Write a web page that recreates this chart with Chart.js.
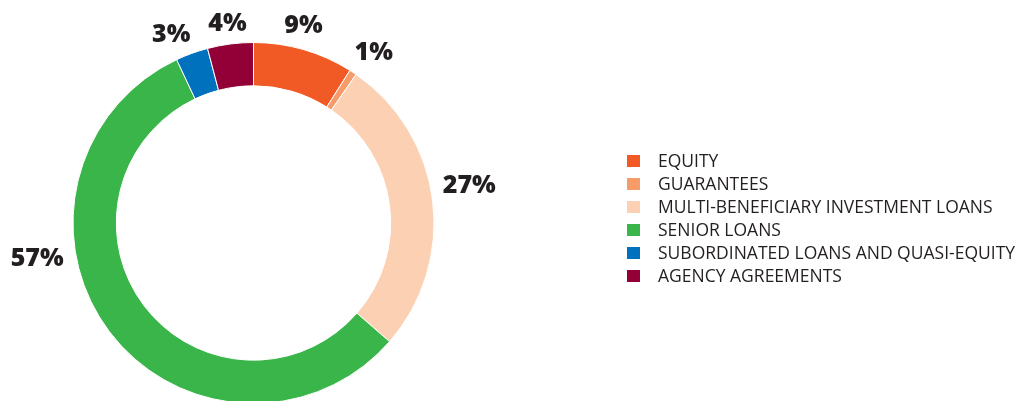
<!DOCTYPE html>
<html>
<head>
<meta charset="utf-8">
<script src="https://cdn.jsdelivr.net/npm/chart.js@4.4.1/dist/chart.umd.min.js"></script>
<style>
  html, body { margin: 0; padding: 0; overflow: hidden; background: #ffffff; width: 1027px; height: 401px; }
  #wrap { position: absolute; left: 0; top: 0; width: 1027px; height: 406px; }
  #legend { position: absolute; left: 627px; top: 149px; font-family: "Open Sans", sans-serif; font-size: 17.5px; color: #231F20; }
  .row { height: 23px; line-height: 23px; white-space: nowrap; position: relative; }
  .box { position: absolute; left: 0; top: 6px; width: 13px; height: 12px; }
  .txt { position: absolute; left: 31px; top: 0; }
</style>
</head>
<body>
<div id="wrap"><canvas id="c" width="1027" height="406"></canvas></div>
<div id="legend"></div>
<script>
const categories = [
  "EQUITY",
  "GUARANTEES",
  "MULTI-BENEFICIARY INVESTMENT LOANS",
  "SENIOR LOANS",
  "SUBORDINATED LOANS AND QUASI-EQUITY",
  "AGENCY AGREEMENTS"
];
const shares = [8.97, 0.65, 26.8, 56.6, 2.9, 4.1];
const colors = ["#F15A24", "#F79B6B", "#FCD1B3", "#3AB54A", "#0071BC", "#930037"];

const labelNudgeDeg = [-2, 1.5, -3, 28, -3.4, 0];

const pctLabels = {
  id: 'pctLabels',
  afterDatasetsDraw(chart) {
    const ctx = chart.ctx;
    const meta = chart.getDatasetMeta(0);
    const fs = 25;
    ctx.save();
    ctx.font = '800 ' + fs + 'px "Open Sans", sans-serif';
    ctx.fillStyle = '#231F20';
    ctx.textAlign = 'center';
    ctx.textBaseline = 'alphabetic';
    const capH = fs * 0.714;
    meta.data.forEach((arc, i) => {
      const p = arc.getProps(['x', 'y', 'startAngle', 'endAngle', 'outerRadius'], true);
      const a = (p.startAngle + p.endAngle) / 2 + labelNudgeDeg[i] * Math.PI / 180;
      const txt = Math.round(shares[i]) + '%';
      const w = ctx.measureText(txt).width;
      const c = Math.cos(a), s = Math.sin(a);
      const ext = Math.abs(c) * w / 2 + Math.abs(s) * capH / 2;
      const r = p.outerRadius + 11 + ext;
      const cx = p.x + c * r, cy = p.y + s * r;
      ctx.fillText(txt, cx, cy + capH / 2);
    });
    ctx.restore();
  }
};

new Chart(document.getElementById('c'), {
  type: 'doughnut',
  data: {
    labels: categories,
    datasets: [{
      data: shares,
      backgroundColor: colors,
      borderColor: '#ffffff',
      borderWidth: 1,
      hoverOffset: 0
    }]
  },
  options: {
    responsive: false,
    animation: false,
    cutout: '76%',
    layout: { padding: { left: 72, top: 42, right: 592, bottom: 2 } },
    plugins: {
      legend: { display: false },
      tooltip: { enabled: false }
    }
  },
  plugins: [pctLabels]
});

const legend = document.getElementById('legend');
categories.forEach((name, i) => {
  const row = document.createElement('div');
  row.className = 'row';
  const b = document.createElement('span');
  b.className = 'box';
  b.style.background = colors[i];
  const t = document.createElement('span');
  t.className = 'txt';
  t.textContent = name;
  row.appendChild(b);
  row.appendChild(t);
  legend.appendChild(row);
});
</script>
</body>
</html>
